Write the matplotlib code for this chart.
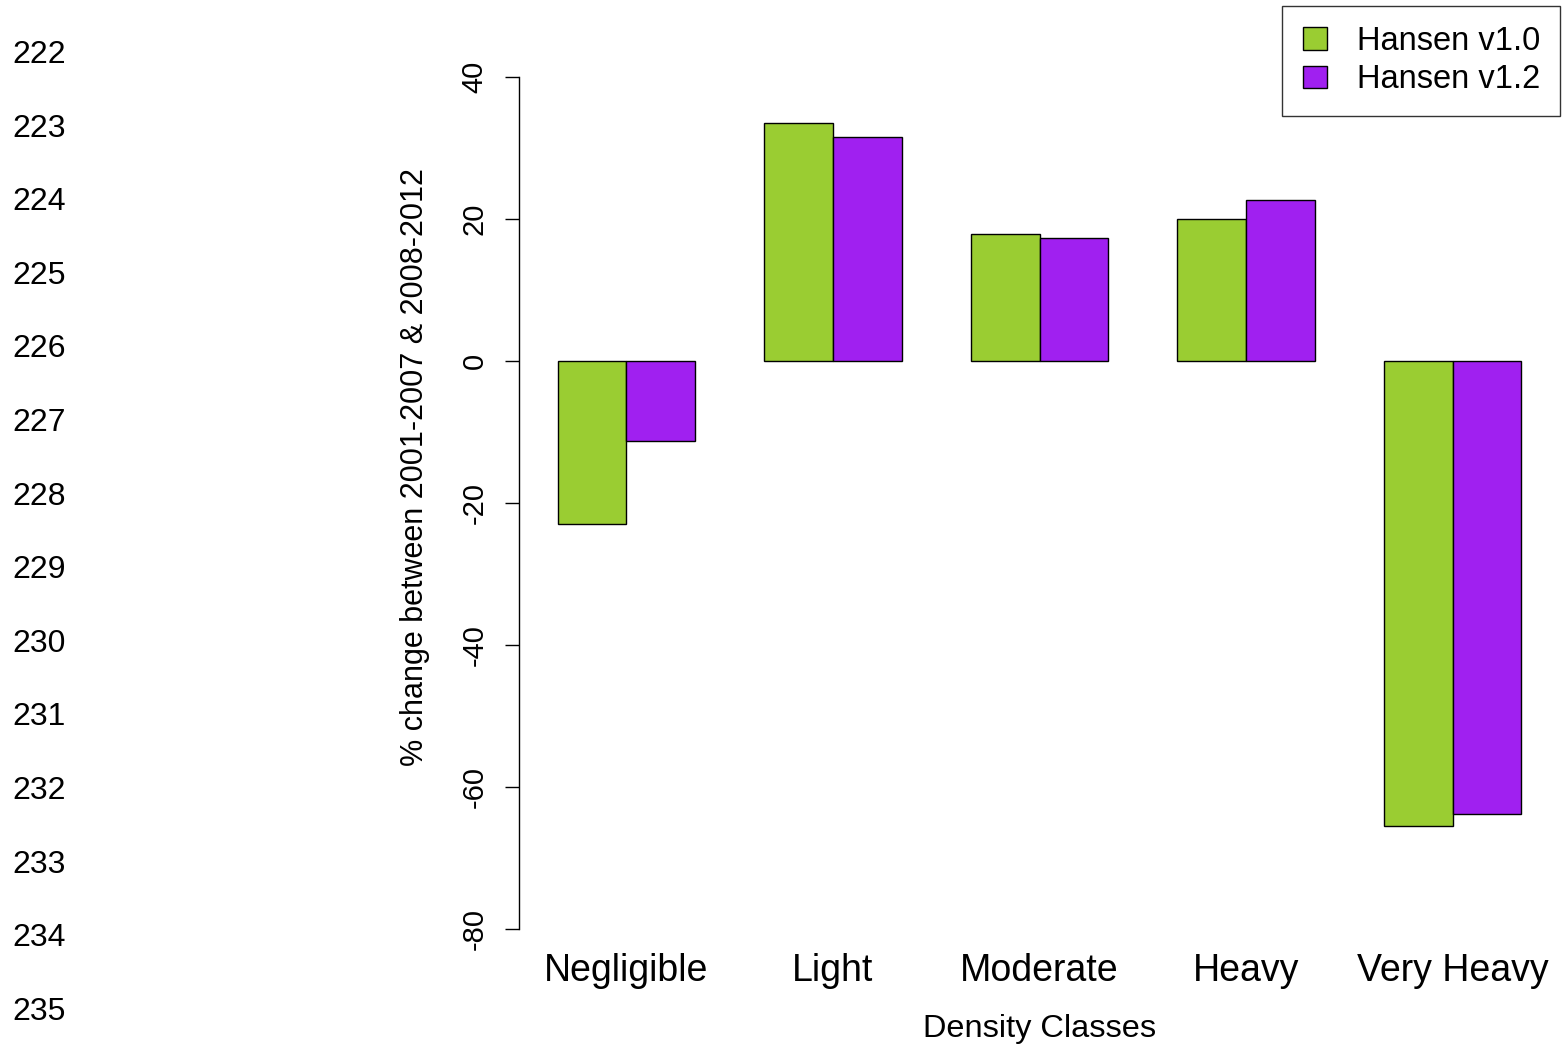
import matplotlib
matplotlib.use("Agg")
import matplotlib.pyplot as plt
import numpy as np

plt.rcParams['font.family'] = ['Liberation Sans', 'DejaVu Sans']

categories = ["Negligible", "Light", "Moderate", "Heavy", "Very Heavy"]
series_names = ["Hansen v1.0", "Hansen v1.2"]
v10 = [-22.9, 33.5, 17.9, 20.0, -65.5]
v12 = [-11.2, 31.6, 17.3, 22.7, -63.8]
colors = ["#9ACD32", "#A020F0"]
yticks = [-80, -60, -40, -20, 0, 20, 40]
line_numbers = list(range(222, 236))

W, H = 1562, 1048
fig = plt.figure(figsize=(W / 100, H / 100), dpi=100)
ax = fig.add_axes([519 / W, 1 - 963 / H, 1041 / W, 920 / H])

n = len(categories)
starts = np.arange(n) * 3 + 1
ax.bar(starts, v10, width=1, align='edge', color=colors[0], edgecolor='black', linewidth=1.0, label=series_names[0])
ax.bar(starts + 1, v12, width=1, align='edge', color=colors[1], edgecolor='black', linewidth=1.0, label=series_names[1])

ax.set_xlim(0.44, 15.56)
ax.set_ylim(-84.8, 44.8)
for s in ['top', 'right', 'bottom']:
    ax.spines[s].set_visible(False)
ax.spines['left'].set_bounds(-80, 40)
ax.spines['left'].set_linewidth(1.0)
ax.set_yticks(yticks)
ax.set_yticklabels([str(t) for t in yticks], rotation=90, va='center', fontsize=21)
ax.tick_params(axis='y', length=10, width=1.0, pad=12)
ax.set_xticks(starts + 1)
ax.set_xticklabels(categories, fontsize=27)
ax.tick_params(axis='x', length=0, pad=-7)

ax.set_ylabel("% change between 2001-2007 & 2008-2012", fontsize=22, labelpad=22)
ax.yaxis.label.set_y(0.539)
ax.set_xlabel("Density Classes", fontsize=23.4, labelpad=18)

leg = ax.legend(loc='upper right', bbox_to_anchor=(1560 / W, 1 - 6 / H), bbox_transform=fig.transFigure,
                fontsize=23.5, frameon=True, fancybox=False, borderaxespad=0, handlelength=0.75,
                handleheight=0.7, handletextpad=0.9, borderpad=0.62, labelspacing=0.22)
leg.get_frame().set_edgecolor('black')
leg.get_frame().set_linewidth(1.0)

for k, num in enumerate(line_numbers):
    y = 52 + 73.6 * k + 3
    fig.text(12 / W, 1 - y / H, str(num), fontsize=23, ha='left', va='center')

fig.savefig("out.png", dpi=100)
